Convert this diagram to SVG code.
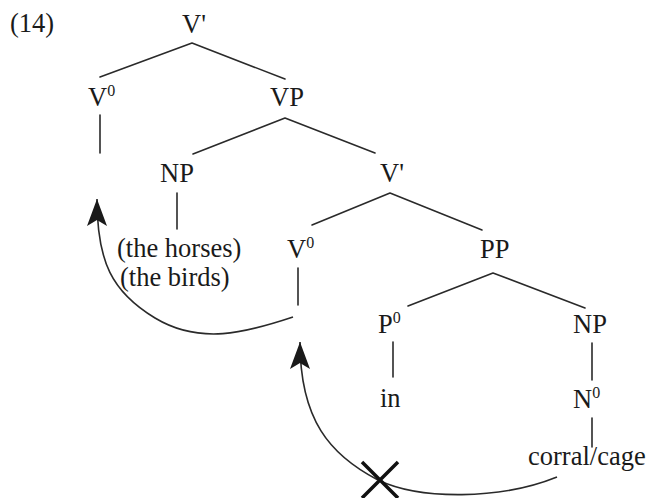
<svg xmlns="http://www.w3.org/2000/svg" width="650" height="498" viewBox="0 0 650 498">
<style>
text{font-family:"Liberation Serif","Times New Roman",serif;font-size:26.5px;fill:#1a1a1a}
.sup{font-size:16px}
.e{stroke:#2a2a2a;stroke-width:1.6;fill:none;stroke-linecap:round}
.mv{stroke:#2a2a2a;stroke-width:1.6;fill:none}
.x{stroke:#111;stroke-width:3.5;stroke-linecap:butt}
</style>
<defs>
<marker id="ah" markerUnits="userSpaceOnUse" markerWidth="30" markerHeight="24" viewBox="-28 -11 30 22" refX="0" refY="0" orient="auto">
<path d="M0,0 L-27,-10 L-21,0 L-27,10 z" fill="#1a1a1a"/>
</marker>
</defs>
<rect width="650" height="498" fill="#fff"/>
<text x="10" y="32">(14)</text>
<g id="n-vbar-top"><text x="182" y="33">V'</text></g>
<g id="n-v0-top"><text x="88" y="106">V<tspan class="sup" dy="-10">0</tspan></text></g>
<g id="n-vp"><text x="270" y="106">VP</text></g>
<g id="n-np1"><text x="160" y="182">NP</text></g>
<g id="n-horses"><text x="117" y="257">(the horses)</text><text x="120" y="286">(the birds)</text></g>
<g id="n-vbar-mid"><text x="380" y="182">V'</text></g>
<g id="n-v0-mid"><text x="287" y="258">V<tspan class="sup" dy="-10">0</tspan></text></g>
<g id="n-pp"><text x="480" y="258">PP</text></g>
<g id="n-p0"><text x="378" y="333">P<tspan class="sup" dy="-10">0</tspan></text></g>
<g id="n-np2"><text x="573" y="333">NP</text></g>
<g id="n-in"><text x="380" y="407">in</text></g>
<g id="n-n0"><text x="573" y="408">N<tspan class="sup" dy="-10">0</tspan></text></g>
<g id="n-corral"><text x="528" y="465">corral/cage</text></g>
<g id="connectors">
<path class="e" d="M192,43 L100,77 M192,43 L285,79"/>
<path class="e" d="M100,115 L100,153"/>
<path class="e" d="M285,118 L193,154 M285,118 L375,153"/>
<path class="e" d="M177,193 L177,229"/>
<path class="e" d="M390,193 L312,225 M390,193 L482,230"/>
<path class="e" d="M298,268 L298,305"/>
<path class="e" d="M493,273 L408,306 M493,273 L585,308"/>
<path class="e" d="M393,342 L393,377"/>
<path class="e" d="M592,343 L592,380"/>
<path class="e" d="M592,418 L592,447"/>
<path class="mv" marker-end="url(#ah)" d="M293,317 C245,333 200,345 155,318 C112,292 97,262 97,199"/>
<path class="mv" marker-end="url(#ah)" d="M557,477 C500,500 420,500 378,480 C330,455 300,420 300,342"/>
<path class="x" d="M362,462 L398,498 M398,462 L362,498"/>
</g>
</svg>
